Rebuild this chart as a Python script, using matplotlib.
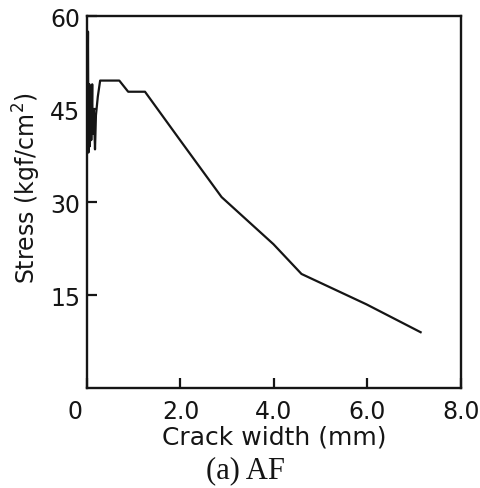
import matplotlib.pyplot as plt
import matplotlib.transforms as mtransforms

# crack width (mm) vs stress (kgf/cm2)
crack_width = [0.0, 0.02, 0.03, 0.05, 0.06, 0.08, 0.09, 0.11, 0.12, 0.14, 0.15,
               0.17, 0.19, 0.23, 0.28, 0.69, 0.88, 1.24, 1.99, 2.88, 3.99,
               4.59, 5.98, 7.14]
stress = [38.0, 57.5, 38.0, 49.0, 39.0, 48.0, 40.0, 49.0, 41.0, 45.0, 43.5,
          38.5, 44.0, 47.0, 49.6, 49.6, 47.8, 47.8, 40.0, 30.8, 23.2,
          18.4, 13.5, 9.0]

xticks = [0, 2, 4, 6, 8]
xtick_labels = ['0', '2.0', '4.0', '6.0', '8.0']
yticks = [15, 30, 45, 60]
ytick_labels = ['15', '30', '45', '60']

plt.rcParams['font.family'] = ['DejaVu Sans']
ink = '#151515'

fig = plt.figure(figsize=(4.81, 4.89), dpi=100)
ax = fig.add_axes([0.181, 0.2045, 0.777, 0.7605])
ax.plot(crack_width, stress, color=ink, lw=1.6)

ax.set_xlim(0, 8)
ax.set_ylim(0, 60)
ax.set_xticks(xticks)
ax.set_xticklabels(xtick_labels)
ax.set_yticks(yticks)
ax.set_yticklabels(ytick_labels)
ax.tick_params(direction='in', length=7, width=1.6, labelsize=17, colors=ink)
ax.tick_params(axis='x', pad=8)
ax.tick_params(axis='y', pad=5)
for s in ax.spines.values():
    s.set_linewidth(1.7)
    s.set_color(ink)

# the origin label sits left of the spine
lbl0 = ax.get_xticklabels()[0]
lbl0.set_transform(lbl0.get_transform() + mtransforms.ScaledTranslation(-0.12, 0, fig.dpi_scale_trans))

ax.set_xlabel('Crack width (mm)', fontsize=18, labelpad=1, color=ink)
ax.set_ylabel('Stress (kgf/cm$^2$)', fontsize=17, color=ink)
ax.yaxis.set_label_coords(-0.118, 0.54)

fig.text(245 / 481, 1 - 471 / 489, '(a) AF', family='Liberation Serif',
         fontsize=22, ha='center', va='center', color=ink)

fig.savefig('out.png', dpi=100)
